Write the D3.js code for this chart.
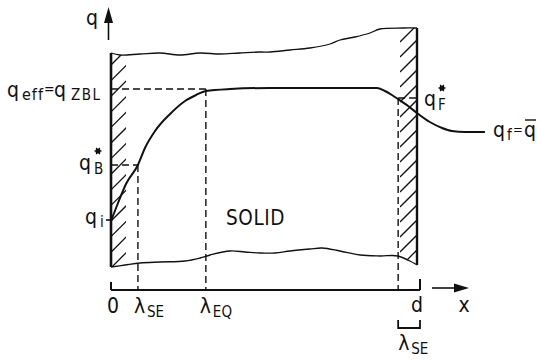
<!DOCTYPE html>
<html><head><meta charset="utf-8">
<script src="https://cdn.jsdelivr.net/npm/d3@7"></script>
<style>
html,body{margin:0;padding:0;background:#fff;}
svg text{font-family:"Liberation Sans Narrow","DejaVu Sans Condensed","Liberation Sans",sans-serif;fill:#111;}
</style></head>
<body>
<svg id="c" width="537" height="360"></svg>
<script>
// ---- data (x in units of d, q in arbitrary units) ----
const curveX = [0, 0.023, 0.049, 0.088, 0.111, 0.144, 0.193, 0.242, 0.278, 0.31, 0.389, 0.52, 0.683, 0.869, 0.895, 0.918, 0.938, 0.971, 1.0, 1.042, 1.082, 1.114, 1.157, 1.222];
const curveQ = [2.76, 3.48, 4.24, 5.0, 5.68, 6.36, 7.04, 7.56, 7.8, 7.96, 8.04, 8.08, 8.08, 8.08, 7.96, 7.8, 7.64, 7.36, 7.08, 6.72, 6.48, 6.36, 6.32, 6.32];
const topX = [0, 0.029, 0.095, 0.16, 0.225, 0.291, 0.356, 0.42, 0.487, 0.52, 0.585, 0.65, 0.716, 0.748, 0.797, 0.846, 0.879, 0.954, 1.0];
const topQ = [9.48, 9.4, 9.44, 9.48, 9.4, 9.48, 9.44, 9.48, 9.52, 9.52, 9.6, 9.68, 9.84, 10.0, 10.12, 10.28, 10.44, 10.48, 10.48];
const botX = [0, 0.046, 0.095, 0.16, 0.242, 0.291, 0.324, 0.389, 0.438, 0.487, 0.536, 0.585, 0.65, 0.69, 0.748, 0.814, 0.879, 0.938, 1.0];
const botQ = [0.92, 1.0, 1.08, 1.12, 1.16, 1.28, 1.4, 1.56, 1.52, 1.48, 1.48, 1.56, 1.64, 1.68, 1.56, 1.4, 1.36, 1.36, 1.0];
const lambdaSE = 0.088, lambdaEQ = 0.31, dPos = 1.0;
const qEff = 8.04, qBstar = 5.0, qi = 2.8, qFstar = 7.68, qf = 6.32;

const svg = d3.select("#c");
const x = d3.scaleLinear().domain([0, 1]).range([111, 417]);
const y = d3.scaleLinear().domain([0, 10]).range([290, 40]);
const line = d3.line().x(d => x(d[0])).y(d => y(d[1]));
const zip = (a, b) => a.map((v, i) => [v, b[i]]);
const topPts = zip(topX, topQ), botPts = zip(botX, botQ);

// hatch clip regions
const defs = svg.append("defs");
const hw = 15 / 306; // hatch strip width in x units
function clipPoly(id, x0, x1) {
  const tp = topPts.filter(p => p[0] >= x0 - 1e-9 && p[0] <= x1 + 1e-9);
  const bp = botPts.filter(p => p[0] >= x0 - 1e-9 && p[0] <= x1 + 1e-9);
  const interp = (pts, xv) => { for (let i = 0; i < pts.length - 1; i++) { if (xv >= pts[i][0] && xv <= pts[i+1][0]) { const t = (xv - pts[i][0]) / (pts[i+1][0] - pts[i][0]); return pts[i][1] + t * (pts[i+1][1] - pts[i][1]); } } return pts[pts.length-1][1]; };
  const poly = [[x0, interp(topPts, x0)], ...tp, [x1, interp(topPts, x1)], [x1, interp(botPts, x1)], ...bp.slice().reverse(), [x0, interp(botPts, x0)]];
  defs.append("clipPath").attr("id", id).append("path").attr("d", line(poly) + "Z");
}
clipPoly("hl", 0, hw);
clipPoly("hr", dPos - 17 / 306, dPos);

function hatch(id, px0, px1, yStart, yEnd, step) {
  const g = svg.append("g").attr("clip-path", `url(#${id})`);
  for (let yy = yStart; yy <= yEnd; yy += step) {
    g.append("line").attr("x1", px0).attr("y1", yy).attr("x2", px1 + 4).attr("y2", yy - (px1 + 4 - px0))
      .attr("stroke", "#111").attr("stroke-width", 1.3);
  }
}
hatch("hl", x(0), x(hw), 65, 285, 15.6);
hatch("hr", x(dPos - 17 / 306), x(dPos), 42, 285, 15);

// top / bottom wavy boundaries
svg.append("path").attr("d", d3.line().x(d => x(d[0])).y(d => y(d[1])).curve(d3.curveCatmullRom)(topPts))
  .attr("fill", "none").attr("stroke", "#111").attr("stroke-width", 1.3);
svg.append("path").attr("d", d3.line().x(d => x(d[0])).y(d => y(d[1])).curve(d3.curveCatmullRom)(botPts))
  .attr("fill", "none").attr("stroke", "#111").attr("stroke-width", 1.3);

// walls
svg.append("line").attr("x1", x(0)).attr("x2", x(0)).attr("y1", y(topQ[0])).attr("y2", y(botQ[0])).attr("stroke", "#111").attr("stroke-width", 2.6);
svg.append("line").attr("x1", x(dPos)).attr("x2", x(dPos)).attr("y1", y(topQ[topQ.length-1])).attr("y2", y(botQ[botQ.length-1])).attr("stroke", "#111").attr("stroke-width", 2.4);

// dashed guides
const dash = (x1, y1, x2, y2) => svg.append("line").attr("x1", x1).attr("y1", y1).attr("x2", x2).attr("y2", y2)
  .attr("stroke", "#111").attr("stroke-width", 1.4).attr("stroke-dasharray", "7,4");
dash(x(0), y(qEff), x(lambdaEQ), y(qEff));
dash(x(lambdaEQ), y(qEff), x(lambdaEQ), y(0));
dash(x(0), y(qBstar), x(lambdaSE), y(qBstar));
dash(x(lambdaSE), y(qBstar), x(lambdaSE), y(0));
dash(x(dPos - lambdaSE * 0.7), y(qFstar), x(dPos), y(qFstar));
dash(x(dPos - lambdaSE * 0.7), y(qFstar), x(dPos - lambdaSE * 0.7), y(0));

// q_i tick
svg.append("line").attr("x1", x(0) - 5).attr("x2", x(0)).attr("y1", y(qi)).attr("y2", y(qi)).attr("stroke", "#111").attr("stroke-width", 1.6);

// concentration curve
svg.append("path").attr("d", d3.line().x(d => x(d[0])).y(d => y(d[1])).curve(d3.curveMonotoneX)(zip(curveX, curveQ)))
  .attr("fill", "none").attr("stroke", "#111").attr("stroke-width", 2);

// axes
svg.append("line").attr("x1", x(0)).attr("x2", x(1) + 3).attr("y1", y(0)).attr("y2", y(0)).attr("stroke", "#111").attr("stroke-width", 2);
svg.append("line").attr("x1", x(0)).attr("x2", x(0)).attr("y1", y(0)).attr("y2", y(0) - 8).attr("stroke", "#111").attr("stroke-width", 2);
svg.append("line").attr("x1", x(1) + 3).attr("x2", x(1) + 3).attr("y1", y(0)).attr("y2", y(0) - 11).attr("stroke", "#111").attr("stroke-width", 2);
// x arrow
svg.append("line").attr("x1", 432).attr("x2", 458).attr("y1", 288).attr("y2", 288).attr("stroke", "#111").attr("stroke-width", 1.6);
svg.append("path").attr("d", "M469,288 L454,283.5 L454,292.5 Z").attr("fill", "#111");
// q arrow
svg.append("line").attr("x1", 108.5).attr("x2", 108.5).attr("y1", 40).attr("y2", 18).attr("stroke", "#111").attr("stroke-width", 1.6);
svg.append("path").attr("d", "M108.5,7 L104,23 L113,23 Z").attr("fill", "#111");

// bracket lambda_SE
const bx0 = x(dPos - lambdaSE * 0.7), bx1 = x(1) + 3;
svg.append("path").attr("d", `M${bx0},320 L${bx0},328 L${bx1},328 L${bx1},320`).attr("fill", "none").attr("stroke", "#111").attr("stroke-width", 1.8);

// labels
function txt(px, py, s, size, anchor) {
  return svg.append("text").attr("x", px).attr("y", py).attr("font-size", size).attr("text-anchor", anchor || "start").text(s);
}
function star(px, py) {
  svg.append("circle").attr("cx", px).attr("cy", py).attr("r", 2.6).attr("fill", "#111");
  [0, 60, 120].forEach(a => {
    const r = 3.6, dx = r * Math.cos(a * Math.PI / 180), dy = r * Math.sin(a * Math.PI / 180);
    svg.append("line").attr("x1", px - dx).attr("y1", py - dy).attr("x2", px + dx).attr("y2", py + dy).attr("stroke", "#111").attr("stroke-width", 1.2);
  });
}
txt(86, 25, "q", 21);
// q_eff = q_ZBL
txt(7, 97, "q", 21); txt(22, 100, "eff", 16).attr("letter-spacing", 1); txt(44, 94, "=", 14); txt(54, 97, "q", 21); txt(71, 100, "ZBL", 15).attr("letter-spacing", 1.5);
// q_B*
txt(79, 170, "q", 21); txt(94, 174, "B", 15); star(98, 151);
// q_i
txt(85, 224, "q", 21); txt(100, 227, "i", 15);
txt(226, 225, "SOLID", 20.5).attr("letter-spacing", 0.6);
// q_F*
txt(424, 106, "q", 21); txt(438, 110, "F", 15); star(442, 88);
// q_f = q-bar
txt(493, 137, "q", 21); txt(507, 140, "f", 15); txt(513, 134, "=", 13); txt(524, 137, "q", 21);
svg.append("line").attr("x1", 525).attr("x2", 536).attr("y1", 120).attr("y2", 120).attr("stroke", "#111").attr("stroke-width", 1.4);
// x-axis labels
txt(x(0) + 2, 313, "0", 21, "middle");
txt(x(lambdaSE) - 4, 313, "λ", 21); txt(x(lambdaSE) + 9, 317, "SE", 15);
txt(x(lambdaEQ) - 6, 313, "λ", 21); txt(x(lambdaEQ) + 7, 317, "EQ", 15);
txt(x(dPos), 312, "d", 21, "middle");
txt(464, 312, "x", 21, "middle");
txt(bx0, 350, "λ", 21); txt(bx0 + 13, 354, "SE", 15);
</script>
</body></html>
